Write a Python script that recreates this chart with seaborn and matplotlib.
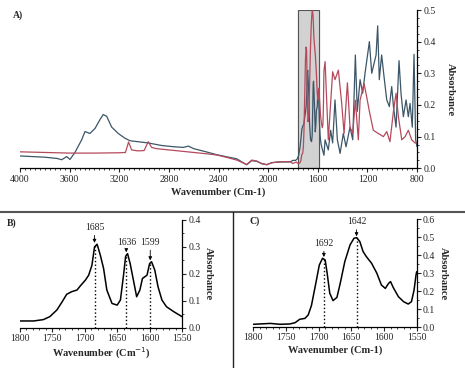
import matplotlib
matplotlib.use("Agg")
import matplotlib.pyplot as plt
from matplotlib.lines import Line2D
from matplotlib.ticker import MultipleLocator, FormatStrFormatter
import seaborn as sns
import pandas as pd

# --- panel B: zoom 1800-1550 of the dark spectrum
b_wn = [1800, 1779, 1764, 1754, 1743, 1735, 1728, 1720, 1712, 1707, 1699, 1694, 1689,
        1685, 1681, 1676, 1671, 1666, 1658, 1650, 1645, 1640, 1637, 1634, 1630, 1625,
        1620, 1615, 1611, 1604, 1600, 1597, 1592, 1587, 1581, 1574, 1563, 1550]
b_abs = [0.025, 0.025, 0.030, 0.041, 0.066, 0.096, 0.124, 0.134, 0.140, 0.155, 0.177, 0.195, 0.232,
         0.300, 0.310, 0.269, 0.220, 0.140, 0.090, 0.084, 0.103, 0.200, 0.265, 0.275, 0.238, 0.177,
         0.115, 0.140, 0.183, 0.195, 0.238, 0.245, 0.214, 0.152, 0.103, 0.078, 0.060, 0.041]
b_peaks = [1685, 1636, 1599]
b_peak_abs = [0.310, 0.275, 0.245]
b_label_y = [0.355, 0.300, 0.300]

# --- panel C: zoom 1800-1550 of the red spectrum
c_wn = [1800, 1774, 1759, 1744, 1736, 1729, 1721, 1716, 1711, 1704, 1699, 1694, 1690,
        1687, 1683, 1678, 1672, 1667, 1660, 1652, 1646, 1642, 1637, 1632, 1627, 1619,
        1611, 1604, 1598, 1593, 1590, 1586, 1578, 1570, 1563, 1558, 1554, 1551, 1550]
c_abs = [0.015, 0.020, 0.015, 0.017, 0.024, 0.043, 0.048, 0.067, 0.120, 0.250, 0.345, 0.383, 0.373,
         0.300, 0.188, 0.147, 0.165, 0.243, 0.364, 0.457, 0.494, 0.498, 0.476, 0.420, 0.392, 0.355,
         0.300, 0.234, 0.215, 0.243, 0.253, 0.221, 0.169, 0.141, 0.128, 0.141, 0.206, 0.290, 0.308]
c_peaks = [1692, 1642]
c_peak_abs = [0.385, 0.500]
c_label_y = [0.440, 0.560]

# --- panel A: full spectra (dark = blue-grey, red)
blue_hi_wn = [4000, 3800, 3700, 3664, 3624, 3597, 3557, 3503, 3476, 3436, 3395, 3355, 3329,
              3301, 3261, 3208, 3154, 3113, 2966, 2858, 2760, 2684, 2643, 2600, 2500, 2415,
              2330, 2253, 2173, 2132, 2092, 2051, 2011, 1971, 1931, 1880, 1824]
blue_hi_abs = [0.039, 0.035, 0.031, 0.027, 0.037, 0.028, 0.050, 0.090, 0.116, 0.110, 0.126, 0.154, 0.170,
               0.164, 0.130, 0.110, 0.095, 0.087, 0.080, 0.072, 0.068, 0.066, 0.070, 0.062, 0.052, 0.043,
               0.036, 0.030, 0.011, 0.024, 0.022, 0.015, 0.011, 0.018, 0.019, 0.020, 0.020]
blue_lo_wn = [1541, 1515, 1496, 1480, 1461, 1442, 1420, 1394, 1372, 1340, 1318, 1297, 1281,
              1259, 1238, 1219, 1184, 1165, 1147, 1130, 1117, 1104, 1085, 1066, 1044, 1023,
              1004, 990, 969, 945, 929, 910, 888, 870, 856, 838, 824, 811, 800]
blue_lo_abs = [0.090, 0.058, 0.120, 0.080, 0.216, 0.090, 0.047, 0.110, 0.068, 0.130, 0.090, 0.358, 0.180,
               0.280, 0.237, 0.300, 0.400, 0.300, 0.330, 0.358, 0.450, 0.280, 0.358, 0.290, 0.216, 0.195,
               0.258, 0.195, 0.130, 0.340, 0.237, 0.163, 0.216, 0.163, 0.205, 0.130, 0.360, 0.090, 0.068]

red_hi_wn = [4000, 3800, 3600, 3400, 3200, 3150, 3125, 3100, 3050, 3000, 2966, 2940, 2900,
             2800, 2700, 2600, 2500, 2415, 2330, 2253, 2173, 2132, 2092, 2051, 2011, 1971,
             1931, 1880, 1824]
red_hi_abs = [0.052, 0.050, 0.048, 0.048, 0.049, 0.050, 0.083, 0.058, 0.055, 0.056, 0.084, 0.066, 0.062,
              0.058, 0.054, 0.050, 0.046, 0.042, 0.034, 0.026, 0.012, 0.026, 0.023, 0.014, 0.012, 0.017,
              0.020, 0.021, 0.021]
red_lo_wn = [1541, 1515, 1480, 1461, 1434, 1407, 1388, 1361, 1340, 1318, 1297, 1273, 1259,
             1227, 1206, 1184, 1152, 1112, 1071, 1044, 1018, 990, 969, 950, 923, 896, 870,
             843, 816, 800]
red_lo_abs = [0.337, 0.090, 0.305, 0.280, 0.310, 0.205, 0.110, 0.270, 0.130, 0.110, 0.215, 0.090, 0.215,
              0.268, 0.226, 0.180, 0.120, 0.110, 0.100, 0.116, 0.084, 0.180, 0.237, 0.163, 0.090, 0.100, 0.120,
              0.090, 0.080, 0.080]

blue_wn = blue_hi_wn + b_wn + blue_lo_wn
blue_abs = blue_hi_abs + b_abs + blue_lo_abs
red_wn = red_hi_wn + c_wn + red_lo_wn
red_abs = red_hi_abs + c_abs + red_lo_abs

box_range = (1590, 1760)

BLUE = "#3c5668"
RED = "#b44a5c"

sns.set_style("white")
plt.rcParams["font.family"] = ["Liberation Serif", "DejaVu Serif"]


def style_axis(ax, xmaj, xmin, ymaj, ymin, ylim, xlim):
    ax.set_xlim(*xlim)
    ax.set_ylim(*ylim)
    ax.spines[["left", "top"]].set_visible(False)
    for s in ["right", "bottom"]:
        ax.spines[s].set_color("black")
        ax.spines[s].set_linewidth(0.9)
    ax.yaxis.tick_right()
    ax.yaxis.set_label_position("right")
    ax.xaxis.set_major_locator(MultipleLocator(xmaj))
    ax.xaxis.set_minor_locator(MultipleLocator(xmin))
    ax.yaxis.set_major_locator(MultipleLocator(ymaj))
    ax.yaxis.set_minor_locator(MultipleLocator(ymin))
    ax.yaxis.set_major_formatter(FormatStrFormatter("%.1f"))
    ax.tick_params(which="major", direction="out", length=3, width=0.8, labelsize=7, pad=1.5,
                   bottom=True, right=True, left=False)
    ax.tick_params(which="minor", direction="out", length=1.5, width=0.6,
                   bottom=True, right=True, left=False)
    ax.set_ylabel("Absorbance", rotation=270, fontsize=7.5, fontweight="bold", labelpad=9)
    ax.grid(False)


fig = plt.figure(figsize=(4.65, 3.68), dpi=100)

# ---- A
axA = fig.add_axes([0.043, 0.5427, 0.8538, 0.4301])
axA.axvspan(box_range[0], box_range[1], color="#d2d2d2", zorder=0)
axA.axvspan(box_range[0], box_range[1], fill=False, edgecolor="#555555", lw=0.8, zorder=0.5)
df_blue = pd.DataFrame({"wn": blue_wn, "abs": blue_abs})
df_red = pd.DataFrame({"wn": red_wn, "abs": red_abs})
sns.lineplot(data=df_blue, x="wn", y="abs", ax=axA, color=BLUE, lw=0.9, sort=False)
sns.lineplot(data=df_red, x="wn", y="abs", ax=axA, color=RED, lw=0.9, sort=False)
style_axis(axA, 400, 40, 0.1, 0.025, (0, 0.5), (4000, 800))
axA.set_xlabel("Wavenumber (Cm-1)", fontsize=7.5, fontweight="bold", labelpad=3)
axA.set_ylabel("Absorbance", rotation=270, fontsize=7.5, fontweight="bold", labelpad=14)

# ---- B
axB = fig.add_axes([0.043, 0.1095, 0.3484, 0.2927])
df_b = pd.DataFrame({"wn": b_wn, "abs": b_abs})
sns.lineplot(data=df_b, x="wn", y="abs", ax=axB, color="black", lw=1.1, sort=False)
style_axis(axB, 50, 10, 0.1, 0.05, (0, 0.4), (1800, 1550))
axB.set_xlabel("Wavenumber (Cm$^{-1}$)", fontsize=7.5, fontweight="bold", labelpad=2)
axB.vlines(b_peaks, 0, b_peak_abs, colors="black", linestyles=":", lw=1.0)
for pk, top, ty in zip(b_peaks, b_peak_abs, b_label_y):
    axB.annotate(str(pk), xy=(pk, top + 0.005), xytext=(pk, ty), ha="center", va="bottom",
                 fontsize=7, arrowprops=dict(arrowstyle="-|>", lw=0.6, color="black",
                                             mutation_scale=5, shrinkA=0, shrinkB=0))

# ---- C
axC = fig.add_axes([0.5447, 0.1114, 0.3514, 0.2927])
df_c = pd.DataFrame({"wn": c_wn, "abs": c_abs})
sns.lineplot(data=df_c, x="wn", y="abs", ax=axC, color="black", lw=1.1, sort=False)
style_axis(axC, 50, 10, 0.1, 0.05, (0, 0.6), (1800, 1550))
axC.set_xlabel("Wavenumber (Cm-1)", fontsize=7.5, fontweight="bold", labelpad=2)
axC.vlines(c_peaks, 0, c_peak_abs, colors="black", linestyles=":", lw=1.0)
for pk, top, ty in zip(c_peaks, c_peak_abs, c_label_y):
    axC.annotate(str(pk), xy=(pk, top + 0.005), xytext=(pk, ty), ha="center", va="bottom",
                 fontsize=7, arrowprops=dict(arrowstyle="-|>", lw=0.6, color="black",
                                             mutation_scale=5, shrinkA=0, shrinkB=0))

# panel letters and frame lines
fig.text(0.039, 0.959, "A)", fontsize=7, fontweight="bold", ha="center", va="center")
fig.text(0.026, 0.394, "B)", fontsize=7, fontweight="bold", ha="center", va="center")
fig.text(0.548, 0.399, "C)", fontsize=7, fontweight="bold", ha="center", va="center")
fig.add_artist(Line2D([0, 1], [0.425, 0.425], transform=fig.transFigure, color="#555555", lw=1.5))
fig.add_artist(Line2D([0.5, 0.5], [0, 0.425], transform=fig.transFigure, color="#222222", lw=1.0))

fig.savefig("out.png", dpi=100)
